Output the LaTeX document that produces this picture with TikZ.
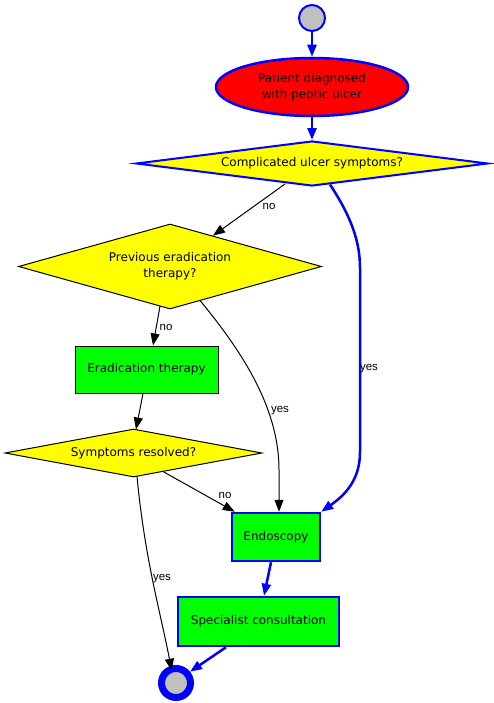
\documentclass[tikz,border=0pt]{standalone}
\usepackage{fontspec}
\setmainfont{DejaVu Sans}
\newfontfamily\lblfont{Liberation Sans}
\usetikzlibrary{shapes.geometric,arrows.meta,calc}

\definecolor{gvblue}{RGB}{0,0,255}
\definecolor{gvgreen}{RGB}{0,255,0}
\definecolor{gvyellow}{RGB}{255,255,0}
\definecolor{gvred}{RGB}{255,0,0}
\definecolor{gvgray}{RGB}{192,192,192}

\begin{document}
\begin{tikzpicture}[x=1pt,y=-1pt,
  txt/.style={font=\fontsize{12}{16}\selectfont},
  dia/.style={diamond, fill=gvyellow, inner sep=0pt, txt, align=center},
  box/.style={rectangle, fill=gvgreen, inner sep=0pt, txt},
  lbl/.style={font=\lblfont\fontsize{11.5}{13}\selectfont, inner sep=0pt},
  bluearr/.style={draw=gvblue, line width=2.5pt, -{Triangle[length=12pt,width=9pt]}},
  blackarr/.style={draw=black, line width=1pt, -{Triangle[length=12pt,width=9pt]}},
]
\useasboundingbox (0,0) rectangle (494,703);

% nodes
\node[circle, fill=gvgray, draw=gvblue, line width=2pt, minimum size=26pt, inner sep=0pt] (start) at (312,18) {};
\node[ellipse, fill=gvred, draw=gvblue, line width=2.5pt, minimum width=192pt, minimum height=58pt, inner sep=0pt, txt, align=center] (diag) at (312,87) {Patient diagnosed\\ with peptic ulcer};
\node[dia, draw=gvblue, line width=2pt, aspect=7.5, minimum width=352pt, minimum height=45pt] (d1) at (312,163.5) {Complicated ulcer symptoms?};
\node[dia, draw=black, line width=1pt, aspect=3.5, minimum width=303pt, minimum height=85pt] (d2) at (170,266.5) {Previous eradication\\ therapy?};
\node[box, draw=black, line width=1pt, minimum width=143pt, minimum height=47pt] (erad) at (146.5,369.5) {Eradication therapy};
\node[dia, draw=black, line width=1pt, aspect=5.3, minimum width=257pt, minimum height=48pt] (d3) at (133.5,453) {Symptoms resolved?};
\node[box, draw=gvblue, line width=2.5pt, minimum width=88pt, minimum height=48pt] (endo) at (276,537) {Endoscopy};
\node[box, draw=gvblue, line width=2.5pt, minimum width=161pt, minimum height=49pt] (spec) at (258.5,621.5) {Specialist consultation};
\node[circle, fill=gvgray, draw=gvblue, line width=7pt, minimum size=29pt, inner sep=0pt] (end) at (176,683) {};

% connectors
\draw[bluearr] (start) -- (diag);
\draw[bluearr] (diag) -- (d1);
\draw[blackarr] ($(d1.center)+(-27,20.5)$) -- (d2);
\draw[bluearr] ($(d1.center)+(18,21)$) .. controls (350,215) and (360,240) .. (360,268) -- (360,452) .. controls (360,480) and (345,495) .. (endo.north east);
\draw[blackarr] ($(d2.center)+(-10,39.7)$) -- ($(erad.north)+(6.5,0)$);
\draw[blackarr] ($(d2.center)+(30,34)$) .. controls (245,355) and (279,410) .. (279,470) -- ($(endo.north)+(3,0)$);
\draw[blackarr] ($(erad.south)+(-3.5,0)$) -- ($(d3.center)+(2.5,-23.5)$);
\draw[blackarr] ($(d3.center)+(29.5,18.5)$) -- ($(endo.north west)+(4,0)$);
\draw[blackarr] ($(d3.center)+(3.5,23.5)$) .. controls (145,560) and (160,610) .. ($(end.center)+(-4.3,-12.3)$);
\draw[bluearr] ($(endo.south)+(-5,0)$) -- ($(spec.north)+(5.5,0)$);
\draw[bluearr] ($(spec.south)+(-32.5,0)$) -- ($(end.center)+(14,-11.3)$);

% labels
\node[lbl] (l1) at (269,206) {no};
\node[lbl] (l2) at (166,327) {no};
\node[lbl] (l3) at (280,411) {yes};
\node[lbl] (l4) at (369,369) {yes};
\node[lbl] (l5) at (225,495) {no};
\node[lbl] (l6) at (162,579) {yes};
\end{tikzpicture}
\end{document}
